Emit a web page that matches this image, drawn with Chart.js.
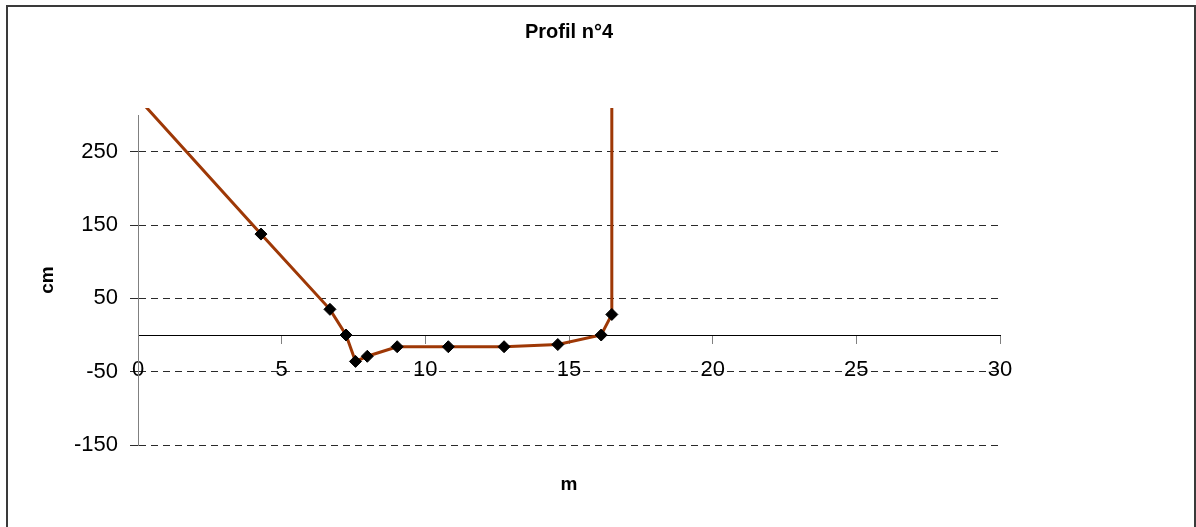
<!DOCTYPE html>
<html>
<head>
<meta charset="utf-8">
<script src="https://cdn.jsdelivr.net/npm/chart.js@4/dist/chart.umd.min.js"></script>
<style>
  body { margin: 0; background: #fff; }
  canvas { display: block; }
</style>
</head>
<body>
<canvas id="profileChart" width="1196" height="527"></canvas>
<script>
// Profile points: distance (m) and level (cm)
const distances = [0, 4.28, 6.68, 7.24, 7.57, 7.98, 9.02, 10.8, 12.74, 14.61, 16.12, 16.49, 16.49];
const levels = [323, 137.6, 35, 0, -36, -29, -16, -16, -16, -13, 0, 28, 450];
const yTicks = [-150, -50, 50, 150, 250];
const xTicks = [0, 5, 10, 15, 20, 25, 30];

const FONT = "'Liberation Sans', Arial, sans-serif";

// Outer frame like the spreadsheet chart border
const framePlugin = {
  id: 'frame',
  beforeDraw(chart) {
    const ctx = chart.ctx;
    ctx.save();
    ctx.fillStyle = '#fff';
    ctx.fillRect(0, 0, chart.width, chart.height);
    ctx.strokeStyle = '#3a3a3a';
    ctx.lineWidth = 2;
    ctx.strokeRect(7, 6, chart.width - 8, chart.height + 20);
    ctx.restore();
  }
};

const ctx = document.getElementById('profileChart').getContext('2d');
new Chart(ctx, {
  type: 'scatter',
  data: {
    datasets: [{
      data: distances.map((x, i) => ({ x: x, y: levels[i] })),
      showLine: true,
      tension: 0,
      borderColor: '#9e3806',
      borderWidth: 3,
      pointStyle: 'rectRot',
      pointRadius: 6,
      pointBackgroundColor: '#000',
      pointBorderColor: '#000',
      pointBorderWidth: 1,
      clip: { left: 0, top: 7, right: 0, bottom: 0 }
    }]
  },
  options: {
    responsive: false,
    animation: false,
    events: [],
    layout: { padding: { left: 0, right: 196, top: 0, bottom: 0 } },
    plugins: {
      legend: { display: false },
      tooltip: { enabled: false },
      title: {
        display: true,
        text: 'Profil n°4',
        color: '#000',
        fullSize: false,
        font: { family: FONT, size: 20, weight: 'bold' },
        padding: { top: 20, bottom: 71 }
      }
    },
    scales: {
      x: {
        type: 'linear',
        min: 0,
        max: 30,
        position: { y: 0 },
        afterBuildTicks: scale => { scale.ticks = xTicks.map(v => ({ value: v })); },
        ticks: {
          color: '#000',
          padding: 14,
          maxRotation: 0,
          autoSkip: false,
          font: { family: FONT, size: 22 }
        },
        grid: {
          drawOnChartArea: false,
          drawTicks: true,
          tickLength: 8,
          tickColor: '#808080'
        },
        border: { display: true, color: '#000', width: 1 }
      },
      xTitle: {
        type: 'linear',
        axis: 'x',
        min: 0,
        max: 30,
        position: 'bottom',
        ticks: { display: false },
        grid: { display: false, drawTicks: false },
        border: { display: false },
        title: {
          display: true,
          text: 'm',
          color: '#000',
          font: { family: FONT, size: 19, weight: 'bold' },
          padding: { top: 28.6, bottom: 30.6 }
        }
      },
      y: {
        type: 'linear',
        min: -150,
        max: 300,
        position: 'left',
        afterBuildTicks: scale => { scale.ticks = yTicks.map(v => ({ value: v })); },
        afterFit: scale => { scale.width = 138; },
        ticks: {
          color: '#000',
          padding: 12,
          font: { family: FONT, size: 22 }
        },
        grid: {
          color: '#2a2a2a',
          lineWidth: 1,
          drawTicks: true,
          tickLength: 8,
          tickColor: '#2a2a2a'
        },
        border: { display: true, color: '#808080', width: 1, dash: [7, 5] },
        title: {
          display: true,
          text: 'cm',
          color: '#000',
          font: { family: FONT, size: 19, weight: 'bold' },
          padding: { top: 36.6, bottom: 0 }
        }
      }
    }
  },
  plugins: [framePlugin]
});
</script>
</body>
</html>
